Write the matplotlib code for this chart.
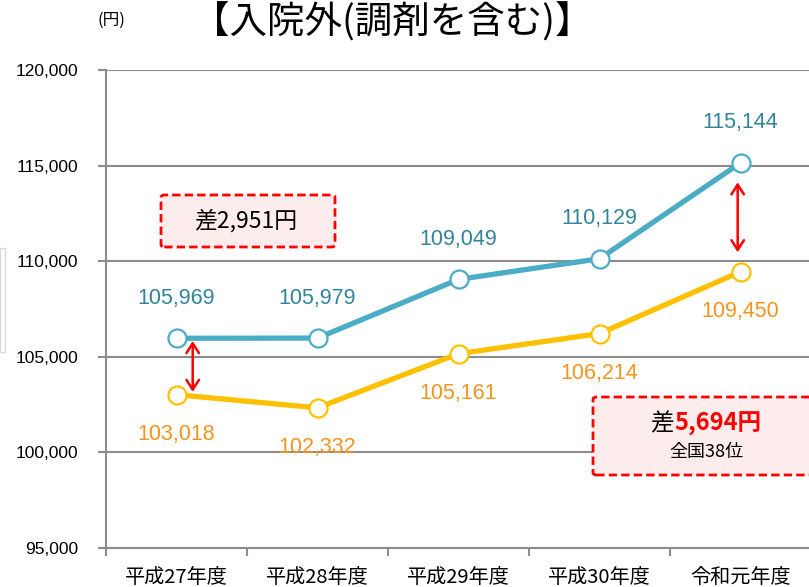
import matplotlib
matplotlib.use("Agg")
import matplotlib.pyplot as plt
from matplotlib.patches import FancyBboxPatch, Rectangle
from matplotlib.ticker import FuncFormatter

plt.rcParams['font.family'] = ['Liberation Sans', 'Noto Sans CJK JP', 'DejaVu Sans']

# data
categories = ['平成27年度', '平成28年度', '平成29年度', '平成30年度', '令和元年度']
national = [105969, 105979, 109049, 110129, 115144]
prefecture = [103018, 102332, 105161, 106214, 109450]
title = '【入院外(調剤を含む)】'
unit = '(円)'

W, H = 809, 587
fig = plt.figure(figsize=(W / 100, H / 100), dpi=100)
ax = fig.add_axes([106 / W, 1 - 548 / H, 705 / W, (548 - 70) / H])

x = list(range(len(categories)))
blue, blue_txt = '#4BACC6', '#31849B'
orange, orange_txt = '#FFC000', '#F7941D'

ax.plot(x, national, color=blue, lw=3.8, marker='o', ms=13,
        mfc='white', mec=blue, mew=1.6, zorder=4, clip_on=False)
ax.plot(x, prefecture, color=orange, lw=3.8, marker='o', ms=13,
        mfc='white', mec=orange, mew=1.6, zorder=4, clip_on=False)

for xi, v in zip(x, national):
    ax.annotate(f'{v:,}', (xi, v), xytext=(0, 40), textcoords='offset pixels',
                ha='center', va='center', fontsize=15.5, color=blue_txt)
for xi, v in zip(x, prefecture):
    ax.annotate(f'{v:,}', (xi, v), xytext=(0, -40), textcoords='offset pixels',
                ha='center', va='center', fontsize=15.5, color=orange_txt)

# difference arrows (first year offset to the right of the markers)
for i, dx, shrink in ((0, 0.115, 2), (4, -0.02, 14)):
    ax.annotate('', xy=(x[i] + dx, national[i]), xytext=(x[i] + dx, prefecture[i]),
                arrowprops=dict(arrowstyle='<->,head_length=0.7,head_width=0.45',
                                color='red', lw=1.8, shrinkA=shrink, shrinkB=shrink),
                zorder=5)

ax.set_xlim(-0.5, 4.5)
ax.set_ylim(95000, 120000)
ax.set_yticks(range(95000, 120001, 5000))
ax.yaxis.set_major_formatter(FuncFormatter(lambda v, p: f'{int(v):,}'))
ax.grid(axis='y', color='#8C8C8C', lw=1.5, zorder=1)
ax.set_axisbelow(True)

ax.set_xticks(x)
ax.set_xticklabels(categories, fontsize=14.5, family=['Noto Sans CJK JP'])
ax.set_xticks([i - 0.5 for i in range(len(categories) + 1)], minor=True)
ax.tick_params(axis='x', which='major', length=0, pad=14)
ax.tick_params(axis='x', which='minor', length=6, width=1.5, color='#8C8C8C')
ax.tick_params(axis='y', length=6, width=1.5, color='#8C8C8C', pad=14, labelsize=12.5)

for s in ('top', 'right'):
    ax.spines[s].set_visible(False)
for s in ('left', 'bottom'):
    ax.spines[s].set_color('#8C8C8C')
    ax.spines[s].set_linewidth(1.5)


def px_box(x0, y0, x1, y1, **kw):
    return FancyBboxPatch((x0 / W, 1 - y1 / H), (x1 - x0) / W, (y1 - y0) / H,
                          boxstyle='round,pad=0,rounding_size=0.004',
                          transform=fig.transFigure, **kw)


fig.patches.append(px_box(161, 195, 335, 247, fc='#FDECEC', ec='#FF0000',
                          lw=2, ls=(0, (3, 1.5)), zorder=6))
fig.patches.append(px_box(593, 397, 815, 475, fc='#FDECEC', ec='#FF0000',
                          lw=2, ls=(0, (3, 1.5)), zorder=6))
fig.patches.append(Rectangle((0, 1 - 352 / H), 5 / W, 104 / H, fill=False,
                             ec='#D9D9D9', lw=1, transform=fig.transFigure))

cjk = ['Noto Sans CJK JP']
fig.text(246 / W, 1 - 221 / H, '差2,951円', ha='center', va='center',
         fontsize=16.5, family=cjk, zorder=7)
fig.text(674 / W, 1 - 424 / H, '差', ha='right', va='center',
         fontsize=17, family=cjk, zorder=7)
fig.text(674 / W, 1 - 424 / H, '5,694円', ha='left', va='center',
         fontsize=17, family=cjk, color='#FF0000', fontweight='bold', zorder=7)
fig.text(706 / W, 1 - 452 / H, '全国38位', ha='center', va='center',
         fontsize=13, family=cjk, zorder=7)

fig.text(392 / W, 1 - 23 / H, title, ha='center', va='center',
         fontsize=27, family=cjk)
fig.text(111 / W, 1 - 20 / H, unit, ha='center', va='center',
         fontsize=12, family=cjk)

fig.savefig('out.png', dpi=100, facecolor='white')
